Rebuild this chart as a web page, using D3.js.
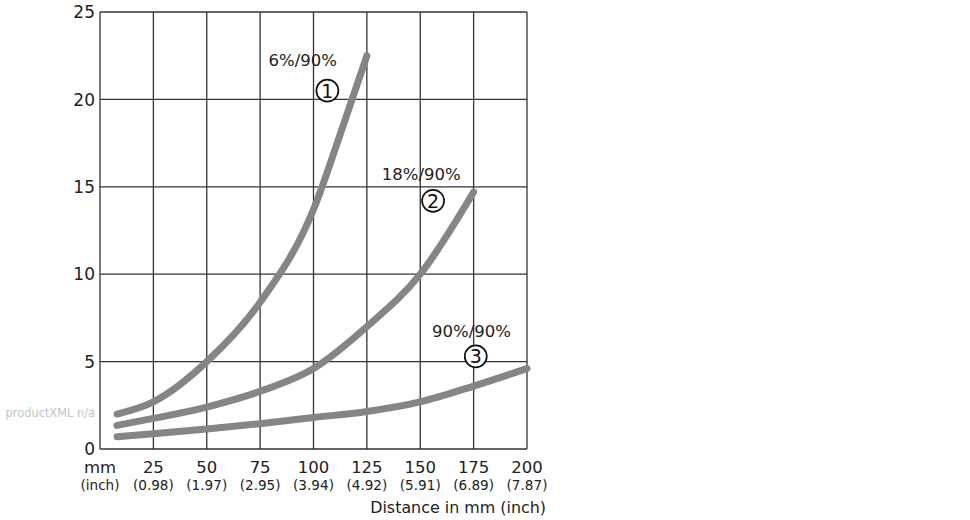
<!DOCTYPE html>
<html>
<head>
<meta charset="utf-8">
<script src="https://cdn.jsdelivr.net/npm/d3@7"></script>
<style>
  body { margin: 0; background: #fff; }
  svg text { font-family: "DejaVu Sans", sans-serif; fill: #222; }
</style>
</head>
<body>
<div id="chart"></div>
<script>
// x ticks (mm) and their inch equivalents
const mmTicks = [25, 50, 75, 100, 125, 150, 175, 200];
const inchLabels = ["(0.98)", "(1.97)", "(2.95)", "(3.94)", "(4.92)", "(5.91)", "(6.89)", "(7.87)"];
const yTicks = [0, 5, 10, 15, 20, 25];

// curves: [distance mm, value]
const curve1 = [[8, 2.0], [25, 2.7], [50, 5.0], [75, 8.4], [100, 13.7], [112.5, 18.0], [125, 22.5]];
const curve2 = [[8, 1.35], [25, 1.75], [50, 2.4], [75, 3.3], [100, 4.6], [125, 7.0], [150, 10.0], [175, 14.7]];
const curve3 = [[8, 0.7], [25, 0.87], [50, 1.15], [75, 1.45], [100, 1.8], [125, 2.15], [150, 2.7], [175, 3.6], [200, 4.6]];

const curveLabels = ["6%/90%", "18%/90%", "90%/90%"];
const curveNumbers = ["1", "2", "3"];

const width = 970, height = 520;
const plotLeft = 100, plotRight = 527, plotTop = 12, plotBottom = 449;

const svg = d3.select("#chart").append("svg")
    .attr("width", width)
    .attr("height", height);

const x = d3.scaleLinear().domain([0, 200]).range([plotLeft, plotRight]);
const y = d3.scaleLinear().domain([0, 25]).range([plotBottom, plotTop]);

// grid
const grid = svg.append("g").attr("stroke", "#333").attr("stroke-width", 1.3);
grid.selectAll(".vline")
    .data([0].concat(mmTicks))
    .enter()
    .append("line")
    .attr("x1", d => x(d)).attr("x2", d => x(d))
    .attr("y1", y(0)).attr("y2", y(25));
grid.selectAll(".hline")
    .data(yTicks)
    .enter()
    .append("line")
    .attr("x1", x(0)).attr("x2", x(200))
    .attr("y1", d => y(d)).attr("y2", d => y(d));

// y tick labels
svg.selectAll(".ylab")
    .data(yTicks)
    .enter()
    .append("text")
    .attr("x", plotLeft - 5)
    .attr("y", d => y(d))
    .attr("dy", "0.36em")
    .attr("text-anchor", "end")
    .style("font-size", "17px")
    .text(d => d);

// x tick labels
svg.selectAll(".xlab")
    .data(mmTicks)
    .enter()
    .append("text")
    .attr("x", d => x(d))
    .attr("y", 473)
    .attr("text-anchor", "middle")
    .style("font-size", "16.5px")
    .text(d => d);
svg.selectAll(".inlab")
    .data(inchLabels)
    .enter()
    .append("text")
    .attr("x", (d, i) => x(mmTicks[i]))
    .attr("y", 490)
    .attr("text-anchor", "middle")
    .style("font-size", "13.6px")
    .text(d => d);
svg.append("text").attr("x", x(0)).attr("y", 473).attr("text-anchor", "middle")
    .style("font-size", "16.5px").text("mm");
svg.append("text").attr("x", x(0)).attr("y", 490).attr("text-anchor", "middle")
    .style("font-size", "13.6px").text("(inch)");
svg.append("text").attr("x", 546).attr("y", 513).attr("text-anchor", "end")
    .style("font-size", "15.9px").text("Distance in mm (inch)");

// watermark
svg.append("text").attr("x", 95).attr("y", 413).attr("dy", "0.35em").attr("text-anchor", "end")
    .style("font-size", "11.4px").style("fill", "#c4c4c4").text("productXML n/a");

// curves
const line = d3.line()
    .x(d => x(d[0]))
    .y(d => y(d[1]))
    .curve(d3.curveMonotoneX);

svg.selectAll(".curve")
    .data([curve1, curve2, curve3])
    .enter()
    .append("path")
    .attr("d", line)
    .attr("fill", "none")
    .attr("stroke", "#858585")
    .attr("stroke-width", 7)
    .attr("stroke-linecap", "round");

// curve labels: [text x mm, text y value, circle x mm, circle y value]
const labelPos = [
    [95, 21.9, 106.5, 20.5],
    [150.5, 15.4, 156, 14.2],
    [174, 6.4, 176, 5.3]
];
labelPos.forEach((p, i) => {
    svg.append("text")
        .attr("x", x(p[0])).attr("y", y(p[1]))
        .attr("text-anchor", "middle")
        .style("font-size", "16.5px")
        .text(curveLabels[i]);
    svg.append("circle")
        .attr("cx", x(p[2])).attr("cy", y(p[3]))
        .attr("r", 11)
        .attr("fill", "#fff")
        .attr("stroke", "#111")
        .attr("stroke-width", 1.7);
    svg.append("text")
        .attr("x", x(p[2])).attr("y", y(p[3]))
        .attr("dy", "0.37em")
        .attr("text-anchor", "middle")
        .style("font-size", "19px")
        .style("fill", "#111")
        .text(curveNumbers[i]);
});
</script>
</body>
</html>
